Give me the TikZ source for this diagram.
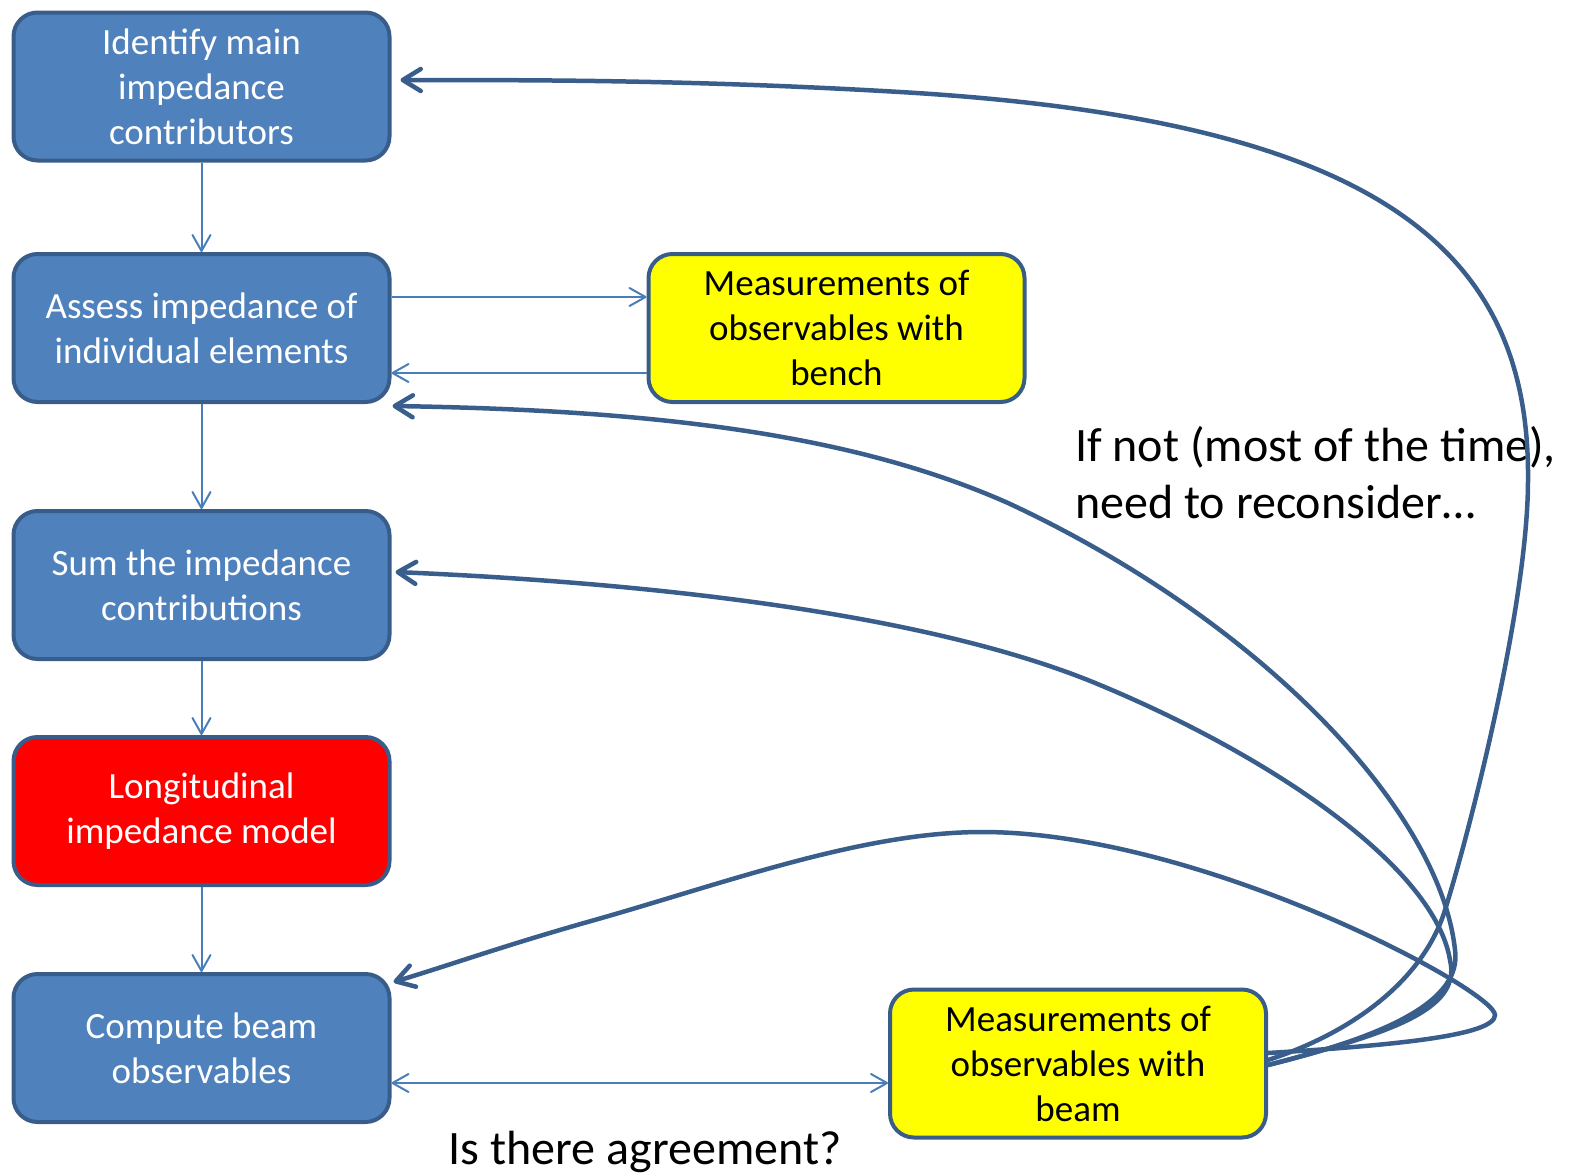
\documentclass[tikz,border=0pt]{standalone}
\usepackage{fontspec}
\setmainfont{Carlito}
\usetikzlibrary{arrows.meta,calc}
\definecolor{boxblue}{HTML}{4F81BD}
\definecolor{edgeblue}{HTML}{385D8A}
\definecolor{linkblue}{HTML}{4A7EBB}
\definecolor{loopblue}{HTML}{3A5E8C}
\definecolor{measyellow}{HTML}{FFFF00}
\definecolor{modelred}{HTML}{FF0000}

\begin{document}
\begin{tikzpicture}[x=1pt,y=-1pt,
  stagebox/.style={draw=edgeblue, line width=4pt, rounded corners=24pt,
    minimum width=376pt, minimum height=148pt, align=center, inner sep=0pt,
    font=\fontsize{37}{45}\selectfont},
  bluestage/.style={stagebox, fill=boxblue, text=white},
  redstage/.style={stagebox, fill=modelred, text=white},
  yellowstage/.style={stagebox, fill=measyellow, text=black},
  thinbarb/.tip={Straight Barb[length=16pt,width=18pt,round]},
  thickbarb/.tip={Straight Barb[length=18pt,width=22pt,round]},
  flowarrow/.style={draw=linkblue, line width=2pt, -thinbarb},
  flowboth/.style={draw=linkblue, line width=2pt, thinbarb-thinbarb},
  feedback/.style={draw=loopblue, line width=4.5pt, line cap=round, -thickbarb},
  remark/.style={font=\fontsize{48}{57}\selectfont, inner sep=0pt, text=black}]

\useasboundingbox (0,0) rectangle (1569,1175);

% main chain of stages
\node[bluestage] (identify) at (201.5,86.5) {Identify main\\impedance\\contributors};
\node[bluestage] (assess) at (201.5,328) {Assess impedance of\\individual elements};
\node[bluestage] (sum) at (201.5,585) {Sum the impedance\\contributions};
\node[redstage] (model) at (201.5,811) {Longitudinal\\impedance model};
\node[bluestage] (compute) at (201.5,1048) {Compute beam\\observables};

% measurements
\node[yellowstage] (bench) at (836.5,328) {Measurements of\\observables with\\bench};
\node[yellowstage] (beam) at (1078,1063.5) {Measurements of\\observables with\\beam};

% captions
\node[remark, anchor=west, align=left] (reconsider) at (1075,473)
  {If not (most of the time),\\need to reconsider…};
\node[remark, anchor=base] (agree) at (645,1164) {Is there agreement?};

% thin flow arrows
\draw[flowarrow] (identify) -- (assess);
\draw[flowarrow] (assess) -- (sum);
\draw[flowarrow] (sum) -- (model);
\draw[flowarrow] (model) -- (compute);
\draw[flowarrow] ($(assess.east)+(0,-31)$) -- ($(bench.west)+(0,-31)$);
\draw[flowarrow] ($(bench.west)+(0,45)$) -- ($(assess.east)+(0,45)$);
\draw[flowboth] ($(compute.east)+(0,35)$) -- ($(beam.west)+(0,19.5)$);

% feedback loops from the beam measurements
\draw[feedback] ($(beam.east)+(0,-3.5)$)
  .. controls (1360,1030) and (1425,975) .. (1445,910)
  .. controls (1473,820) and (1528,600) .. (1528,480)
  .. controls (1530,250) and (1380,120) .. (900,92)
  .. controls (700,80.3) and (550,80) .. ($(identify.east)+(9,-6.5)$);
\draw[feedback] ($(beam.east)+(0,1.5)$)
  .. controls (1390,1035) and (1462,1000) .. (1455,950)
  .. controls (1440,810) and (1260,620) .. (1008,503)
  .. controls (850,433) and (650,410) .. ($(assess.east)+(1,78)$);
\draw[feedback] ($(beam.east)+(0,1.5)$)
  .. controls (1390,1033) and (1462,1010) .. (1450,960)
  .. controls (1435,870) and (1280,760) .. (1100,685)
  .. controls (950,622) and (700,585) .. ($(sum.east)+(4,-13)$);
\draw[feedback] ($(beam.east)+(0,-10.5)$)
  .. controls (1400,1045) and (1495,1035) .. (1495,1015)
  .. controls (1495,990) and (1200,832) .. (982,832)
  .. controls (860,832) and (720,885) .. (584,923)
  .. controls (500,947) and (450,965) .. ($(compute.east)+(2,-66)$);
\end{tikzpicture}
\end{document}
